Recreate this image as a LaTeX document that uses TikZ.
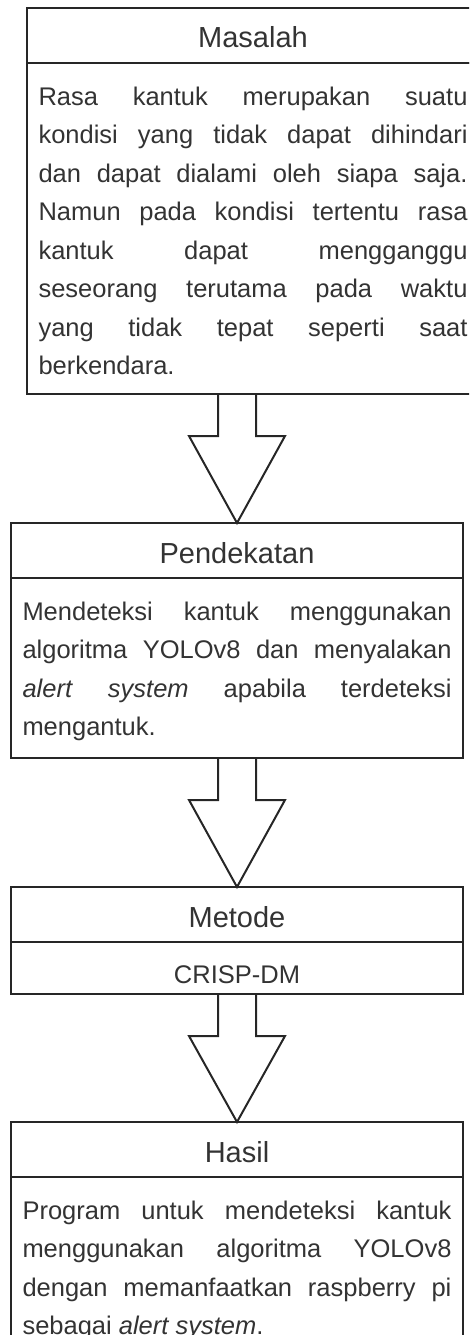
\documentclass[tikz,border=0pt]{standalone}
\usepackage{fontspec}
\setmainfont{Liberation Sans}
\usepackage{xcolor}
\usetikzlibrary{calc}

\definecolor{txtgray}{HTML}{333333}
\definecolor{linegray}{HTML}{262626}

\newcommand{\jline}[1]{\makebox[\linewidth][s]{#1}\\}
\newcommand{\bodytext}[2]{\parbox[c][#1][t]{429pt}{\fontsize{25.5}{38.5}\selectfont\rule{0pt}{42pt}#2}}
\newcommand{\hollowarrow}[2]{%
 \draw[arrowline] ($(#2.north |- #1.south)+(-19,0)$) -- ++(0,-42) -- ++(-29,0) -- (#2.north)
   -- ($(#2.north |- #1.south)+(48,-42)$) -- ++(-29,0) -- ++(0,42);}

\begin{document}
\begin{tikzpicture}[x=1pt,y=1pt,
 head/.style={draw=linegray, line width=2pt, minimum width=452pt, minimum height=55pt,
  inner sep=0pt, outer sep=0pt, text=txtgray, font=\fontsize{29}{34}\selectfont,
  text height=40pt, text depth=15pt, anchor=north west},
 body/.style={draw=linegray, line width=2pt, minimum width=452pt, inner sep=0pt,
  outer sep=0pt, text=txtgray, anchor=north},
 arrowline/.style={draw=linegray, line width=2pt, line join=miter}]
\useasboundingbox (0,0) rectangle (469,-1335);
\clip (0,0) rectangle (469,-1335);

 \coordinate (m) at (27,-8);
 \coordinate (p) at (11,-523);
 \coordinate (d) at (11,-887);
 \coordinate (h) at (11,-1122);

% Masalah
\node [head] (masalahH) at (m) {Masalah};
\node [body] (masalahB) at (masalahH.south) {\bodytext{331pt}{%
\jline{Rasa kantuk merupakan suatu}
\jline{kondisi yang tidak dapat dihindari}
\jline{dan dapat dialami oleh siapa saja.}
\jline{Namun pada kondisi tertentu rasa}
\jline{kantuk dapat mengganggu}
\jline{seseorang terutama pada waktu}
\jline{yang tidak tepat seperti saat}
berkendara.}};

% Pendekatan
\node [head] (pendekatanH) at (p) {Pendekatan};
\node [body] (pendekatanB) at (pendekatanH.south) {\bodytext{180pt}{%
\jline{Mendeteksi kantuk menggunakan}
\jline{algoritma YOLOv8 dan menyalakan}
\jline{\textit{alert} \textit{system} apabila terdeteksi}
mengantuk.}};

% Metode
\node [head] (metodeH) at (d) {Metode};
\node [body] (metodeB) at (metodeH.south) {\parbox[c][52pt][t]{429pt}{\centering
 \fontsize{25.5}{38.5}\selectfont\rule{0pt}{41pt}CRISP-DM}};

% Hasil
\node [head] (hasilH) at (h) {Hasil};
\node [body] (hasilB) at (hasilH.south) {\bodytext{180pt}{%
\jline{Program untuk mendeteksi kantuk}
\jline{menggunakan algoritma YOLOv8}
\jline{dengan memanfaatkan raspberry pi}
sebagai \textit{alert system}.}};

\hollowarrow{masalahB}{pendekatanH}
\hollowarrow{pendekatanB}{metodeH}
\hollowarrow{metodeB}{hasilH}

\end{tikzpicture}
\end{document}
